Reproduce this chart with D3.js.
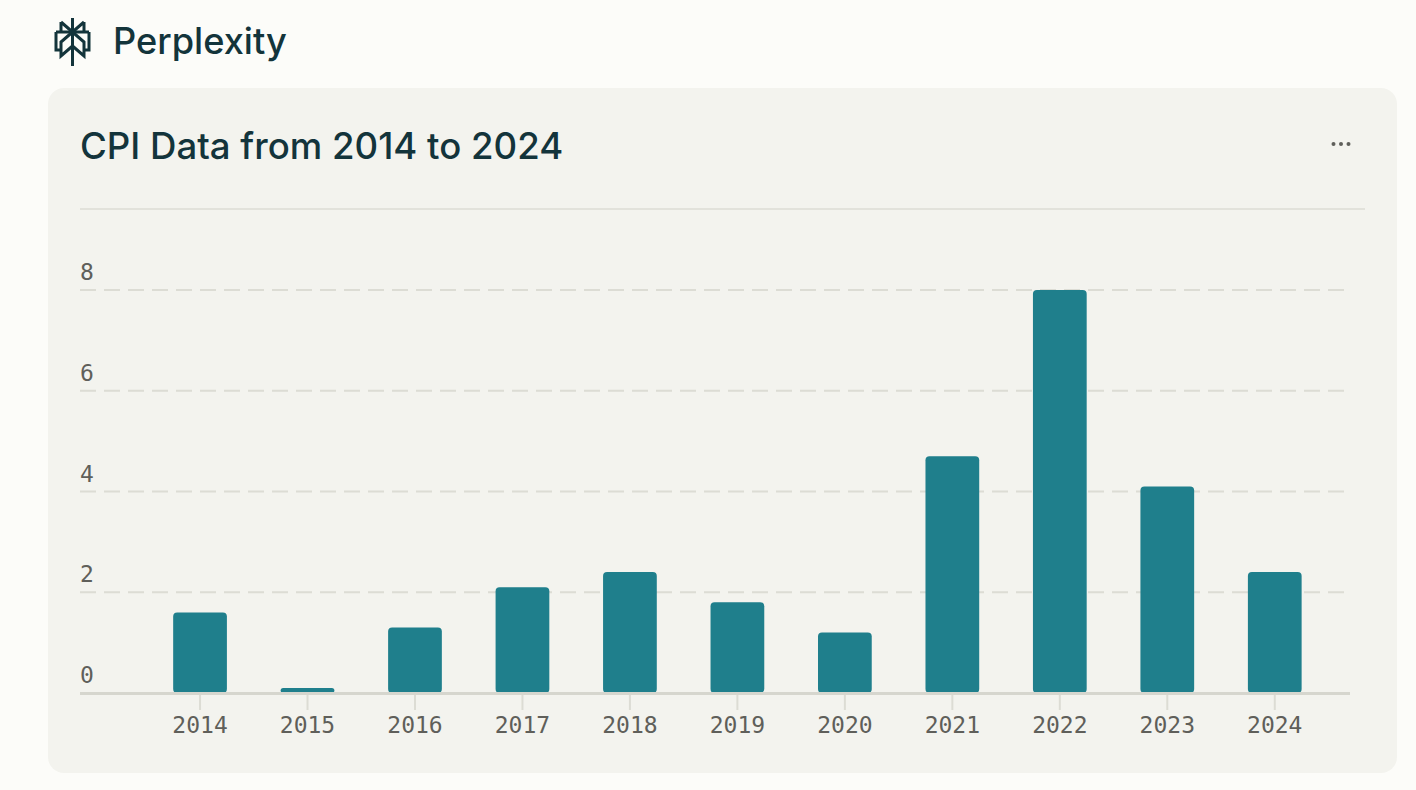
<!DOCTYPE html>
<html>
<head>
<meta charset="utf-8">
<script src="https://cdn.jsdelivr.net/npm/d3@7"></script>
<style>
  html, body { margin: 0; padding: 0; background: #fcfcf9; }
  svg { display: block; }
</style>
</head>
<body>
<svg id="chart"></svg>
<script>
// data
const years = ["2014", "2015", "2016", "2017", "2018", "2019", "2020", "2021", "2022", "2023", "2024"];
const cpi = [1.6, 0.1, 1.3, 2.1, 2.4, 1.8, 1.2, 4.7, 8.0, 4.1, 2.4];
const yTicks = [0, 2, 4, 6, 8];
const title = "CPI Data from 2014 to 2024";
const brand = "Perplexity";

const width = 1416, height = 790;
const ink = "#13343b";
const barColor = "#1f7f8c";
const labelColor = "#5f5f5a";
const monoFont = "'DejaVu Sans Mono', 'Liberation Mono', monospace";
const sansFont = "Inter, 'Noto Sans', sans-serif";

const svg = d3.select("#chart").attr("width", width).attr("height", height);

// brand logo
const logo = svg.append("g")
  .attr("transform", "translate(46,15)")
  .attr("fill", "none")
  .attr("stroke", ink)
  .attr("stroke-width", 3)
  .attr("stroke-linejoin", "miter");
const cx = 26.5;
logo.append("path").attr("d", `M${cx},3 V51`);
[-1, 1].forEach(s => {
  const x1 = cx + s * 11.5, x0 = cx + s * 16.5;
  logo.append("path").attr("d", `M${x1},7 V17 M${x1},7 L${cx},17`);
  logo.append("path").attr("d", `M${x0},17 V35 H${x1}`);
  logo.append("path").attr("d", `M${cx},17 L${x1},27 V41 L${cx},31`);
});
logo.append("path").attr("d", `M${cx - 16.5},17 H${cx + 16.5}`);

svg.append("text")
  .attr("x", 113).attr("y", 54)
  .attr("font-family", sansFont)
  .attr("font-size", 36.2)
  .attr("font-weight", 500)
  .attr("fill", ink)
  .text(brand);

// card
svg.append("rect")
  .attr("x", 48).attr("y", 88)
  .attr("width", 1349).attr("height", 685)
  .attr("rx", 16)
  .attr("fill", "#f3f3ee");

svg.append("text")
  .attr("x", 80).attr("y", 159)
  .attr("font-family", sansFont)
  .attr("font-size", 36.6)
  .attr("font-weight", 500)
  .attr("fill", ink)
  .text(title);

// "more" dots
svg.append("g").selectAll("circle")
  .data([0, 1, 2])
  .join("circle")
  .attr("cx", d => 1333.5 + d * 7.5)
  .attr("cy", 144)
  .attr("r", 2)
  .attr("fill", labelColor);

svg.append("line")
  .attr("x1", 80).attr("x2", 1365)
  .attr("y1", 209).attr("y2", 209)
  .attr("stroke", "#e2e2db")
  .attr("stroke-width", 2);

// scales
const x = d3.scaleBand()
  .domain(years)
  .range([146.3, 1328.5])
  .paddingInner(0.5)
  .paddingOuter(0.25);

const y = d3.scaleLinear()
  .domain([0, 8])
  .range([693, 290]);

// gridlines
svg.append("g").selectAll("line")
  .data(yTicks.filter(d => d > 0))
  .join("line")
  .attr("x1", 80).attr("x2", 1345)
  .attr("y1", d => y(d)).attr("y2", d => y(d))
  .attr("stroke", "#dcdcd4")
  .attr("stroke-width", 2)
  .attr("stroke-dasharray", "16 8");

// y labels
svg.append("g").selectAll("text")
  .data(yTicks)
  .join("text")
  .attr("x", 80)
  .attr("y", d => y(d) - 10)
  .attr("font-family", monoFont)
  .attr("font-size", 23)
  .attr("fill", labelColor)
  .text(d => d);

// x axis
const xAxis = svg.append("g")
  .attr("transform", `translate(0,${y(0)})`)
  .call(d3.axisBottom(x).tickSize(17).tickPadding(7));
xAxis.select(".domain").remove();
xAxis.selectAll(".tick line")
  .attr("stroke", "#dcdcd4")
  .attr("stroke-width", 2);
xAxis.selectAll(".tick text")
  .attr("font-family", monoFont)
  .attr("font-size", 23)
  .attr("fill", labelColor);

// bars
svg.append("g").selectAll("path")
  .data(cpi)
  .join("path")
  .attr("fill", barColor)
  .attr("d", (d, i) => {
    const x0 = x(years[i]), w = x.bandwidth();
    const top = y(d), bottom = y(0);
    const r = Math.min(4, (bottom - top) / 2);
    return `M${x0},${bottom - r}
      V${top + r} Q${x0},${top} ${x0 + r},${top}
      H${x0 + w - r} Q${x0 + w},${top} ${x0 + w},${top + r}
      V${bottom - r} Q${x0 + w},${bottom} ${x0 + w - r},${bottom}
      H${x0 + r} Q${x0},${bottom} ${x0},${bottom - r} Z`;
  });

// baseline
svg.append("line")
  .attr("x1", 80).attr("x2", 1350)
  .attr("y1", y(0) + 0.5).attr("y2", y(0) + 0.5)
  .attr("stroke", "#d6d6ce")
  .attr("stroke-width", 3);
</script>
</body>
</html>
